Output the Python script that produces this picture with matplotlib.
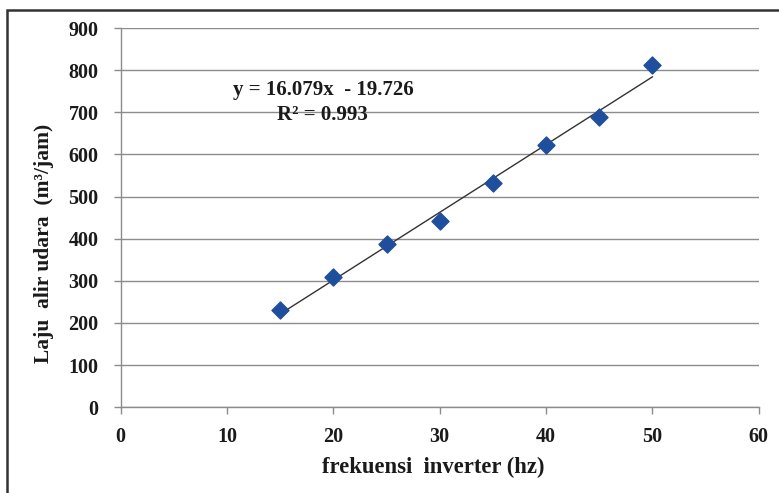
import matplotlib
matplotlib.use("Agg")
import matplotlib.pyplot as plt
import numpy as np
from matplotlib.patches import Rectangle

freq = [15, 20, 25, 30, 35, 40, 45, 50]
flow = [230, 310, 388, 443, 532, 622, 688, 812]
slope = 16.079
intercept = -19.726
eq_text = "y = 16.079x  - 19.726"
r2_text = "R² = 0.993"
xticks = [0, 10, 20, 30, 40, 50, 60]
yticks = [0, 100, 200, 300, 400, 500, 600, 700, 800, 900]

plt.rcParams['font.family'] = ['Liberation Serif', 'DejaVu Serif']

fig = plt.figure(figsize=(7.79, 4.93), dpi=100)
ax = fig.add_axes([0.155, 0.174, 0.819, 0.769])

ax.set_xlim(0, 60)
ax.set_ylim(0, 900)
ax.set_xticks(xticks)
ax.set_yticks(yticks)
ax.yaxis.grid(True, color='#8c8c8c', linewidth=1.0)
ax.set_axisbelow(True)
for s in ['top', 'right']:
    ax.spines[s].set_visible(False)
for s in ['left', 'bottom']:
    ax.spines[s].set_color('#8c8c8c')
    ax.spines[s].set_linewidth(1.0)
ax.tick_params(axis='both', colors='#8c8c8c', labelcolor='#1a1a1a',
               labelsize=14.5, length=5, width=1.0)
ax.tick_params(axis='y', pad=11)
ax.tick_params(axis='x', pad=9)
for lab in ax.get_xticklabels() + ax.get_yticklabels():
    lab.set_fontweight('bold')

xf = np.array([min(freq), max(freq)])
ax.plot(xf, slope * xf + intercept, color='#333333', linewidth=1.0, zorder=2)
ax.scatter(freq, flow, marker='D', s=75, color='#1f4f9c', zorder=3)

ax.text(19.1, 753, eq_text, ha='center', va='center', fontsize=15, fontweight='bold', color='#1a1a1a')
ax.text(19.0, 693, r2_text, ha='center', va='center', fontsize=15, fontweight='bold', color='#1a1a1a')

ax.set_xlabel("frekuensi  inverter (hz)", fontsize=16.3, fontweight='bold', color='#1a1a1a')
ax.set_ylabel("Laju  alir udara  (m³/jam)", fontsize=15.5, fontweight='bold', color='#1a1a1a')
ax.xaxis.set_label_coords(0.49, -0.132)
ax.yaxis.set_label_coords(-0.104, 0.433)

fig.patches.append(Rectangle((0.009, -0.05), 0.993, 1.03, transform=fig.transFigure,
                             fill=False, edgecolor='#333333', linewidth=1.8))

fig.savefig("out.png", dpi=100)
